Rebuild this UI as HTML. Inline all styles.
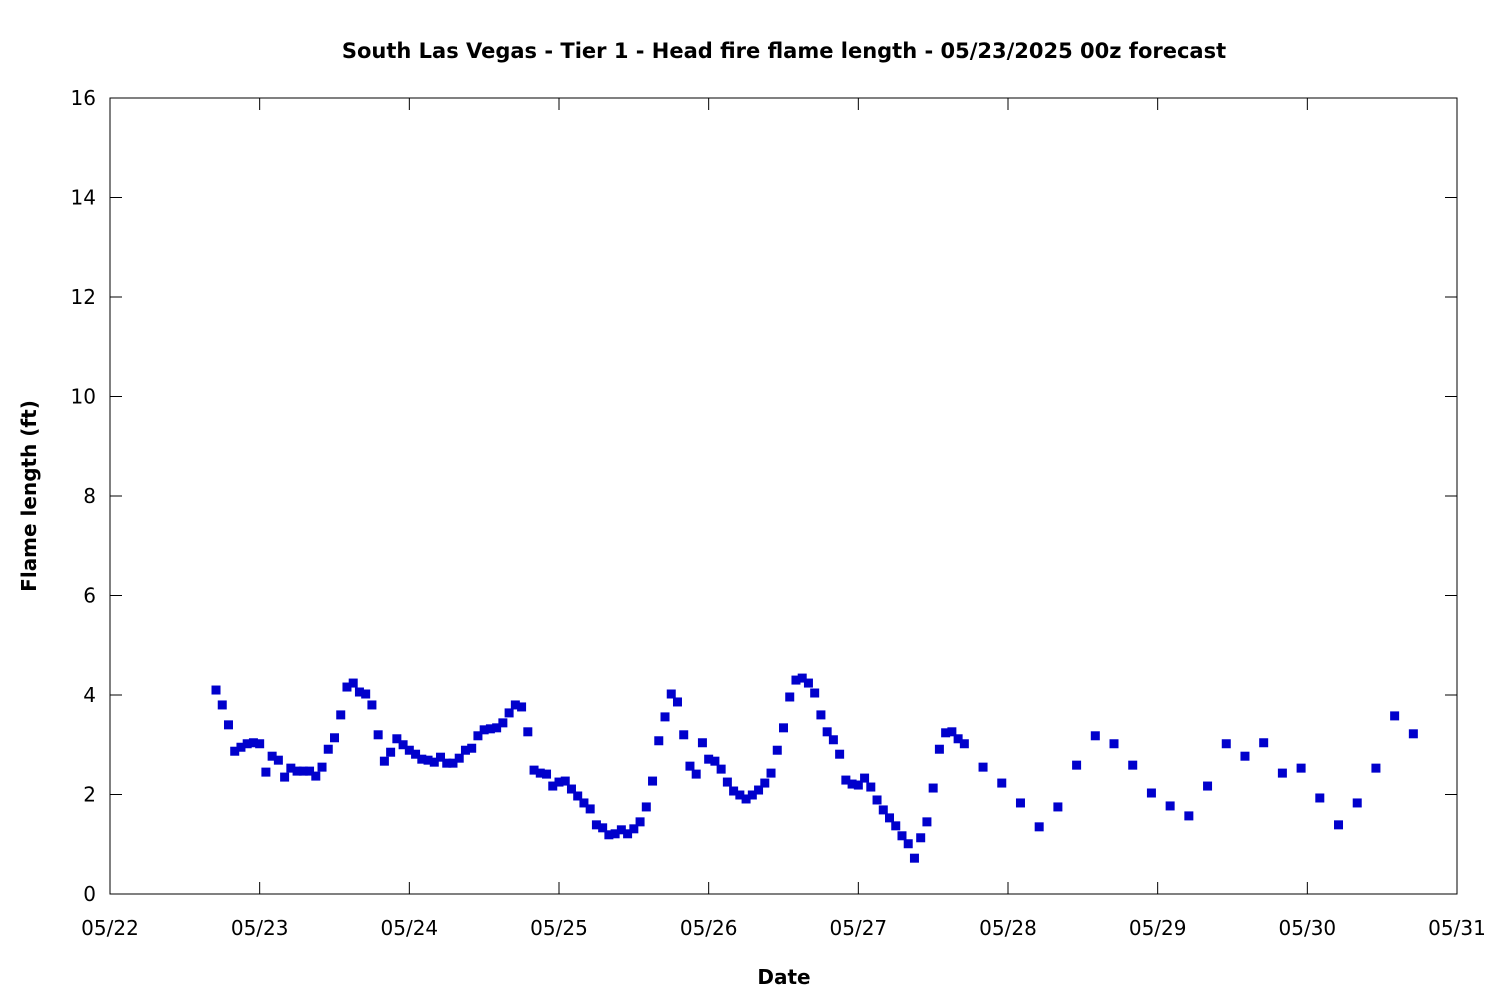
<!DOCTYPE html>
<html><head><meta charset="utf-8"><style>
body{margin:0;background:#fff;}
svg{font-family:"DejaVu Sans","Liberation Sans",sans-serif;}
</style></head><body>
<svg id="chart" width="1500" height="1000">
<text x="784" y="58" text-anchor="middle" font-size="21" font-weight="bold">South Las Vegas - Tier 1 - Head fire flame length - 05/23/2025 00z forecast</text>
<rect x="110" y="98" width="1347" height="796" fill="none" stroke="#000" stroke-width="1"/>
<g id="axes"></g>
<g id="points"></g>
<text x="784" y="984" text-anchor="middle" font-size="20" font-weight="bold">Date</text>
<text x="36" y="496" text-anchor="middle" font-size="20" font-weight="bold" transform="rotate(-90 36 496)">Flame length (ft)</text>
</svg>
<script>
const xTickLabels=["05/22","05/23","05/24","05/25","05/26","05/27","05/28","05/29","05/30","05/31"];
const yTicks=[0,2,4,6,8,10,12,14,16];
const hourlyStart=17;
const hourlyVals=[4.10,3.80,3.40,2.87,2.95,3.02,3.04,3.02,2.45,2.77,2.69,2.35,2.53,2.47,2.47,2.47,2.37,2.55,2.91,3.14,3.60,4.16,4.24,4.06,4.02,3.80,3.20,2.67,2.85,3.12,3.00,2.89,2.81,2.71,2.69,2.65,2.75,2.63,2.63,2.73,2.89,2.93,3.18,3.30,3.32,3.34,3.44,3.64,3.80,3.76,3.26,2.49,2.43,2.41,2.17,2.25,2.27,2.11,1.97,1.83,1.71,1.39,1.33,1.19,1.21,1.29,1.21,1.31,1.45,1.75,2.27,3.08,3.56,4.02,3.86,3.20,2.57,2.41,3.04,2.71,2.67,2.51,2.25,2.07,1.99,1.91,1.99,2.09,2.23,2.43,2.89,3.34,3.96,4.30,4.34,4.24,4.04,3.60,3.26,3.10,2.81,2.29,2.21,2.19,2.33,2.15,1.89,1.69,1.53,1.37,1.17,1.01,0.72,1.13,1.45,2.13,2.91,3.24,3.26,3.12,3.02];
const threeHourStart=140;
const threeHourVals=[2.55,2.23,1.83,1.35,1.75,2.59,3.18,3.02,2.59,2.03,1.77,1.57,2.17,3.02,2.77,3.04,2.43,2.53,1.93,1.39,1.83,2.53,3.58,3.22];

const X0=110,X1=1457,Y0=894,Y1=98;
const xScale=h=>X0+h/(9*24)*(X1-X0);
const yScale=v=>Y0-v/16*(Y0-Y1);
const NS="http://www.w3.org/2000/svg";
const axes=document.getElementById('axes');
const pts=document.getElementById('points');
function mk(tag,attrs,parent){const e=document.createElementNS(NS,tag);for(const k in attrs)e.setAttribute(k,attrs[k]);parent.appendChild(e);return e;}
yTicks.forEach(v=>{
  const y=yScale(v);
  const t1=mk('line',{x1:X0,x2:X0+12,y1:y,y2:y,stroke:'#000'},axes);
  
  
  const t2=mk('line',{x1:X1-12,x2:X1,y1:y,y2:y,stroke:'#000'},axes);
  
  
  const t=mk('text',{x:X0-14,y:y+7,'text-anchor':'end','font-size':20},axes);
  t.textContent=v;
  
  
});
xTickLabels.forEach((lab,i)=>{
  const x=xScale(i*24);
  const t1=mk('line',{x1:x,x2:x,y1:Y0,y2:Y0-12,stroke:'#000'},axes);
  
  
  const t2=mk('line',{x1:x,x2:x,y1:Y1,y2:Y1+12,stroke:'#000'},axes);
  
  
  const t=mk('text',{x:x,y:Y0+41,'text-anchor':'middle','font-size':20},axes);
  t.textContent=lab;
  
  
});
function addPoint(h,v){
  const r=mk('rect',{x:xScale(h)-4.5,y:yScale(v)-4.5,width:9,height:9,fill:'#0000cc'},pts);
  
  
}
hourlyVals.forEach((v,i)=>addPoint(hourlyStart+i,v));
threeHourVals.forEach((v,i)=>addPoint(threeHourStart+3*i,v));
</script>
</body></html>
